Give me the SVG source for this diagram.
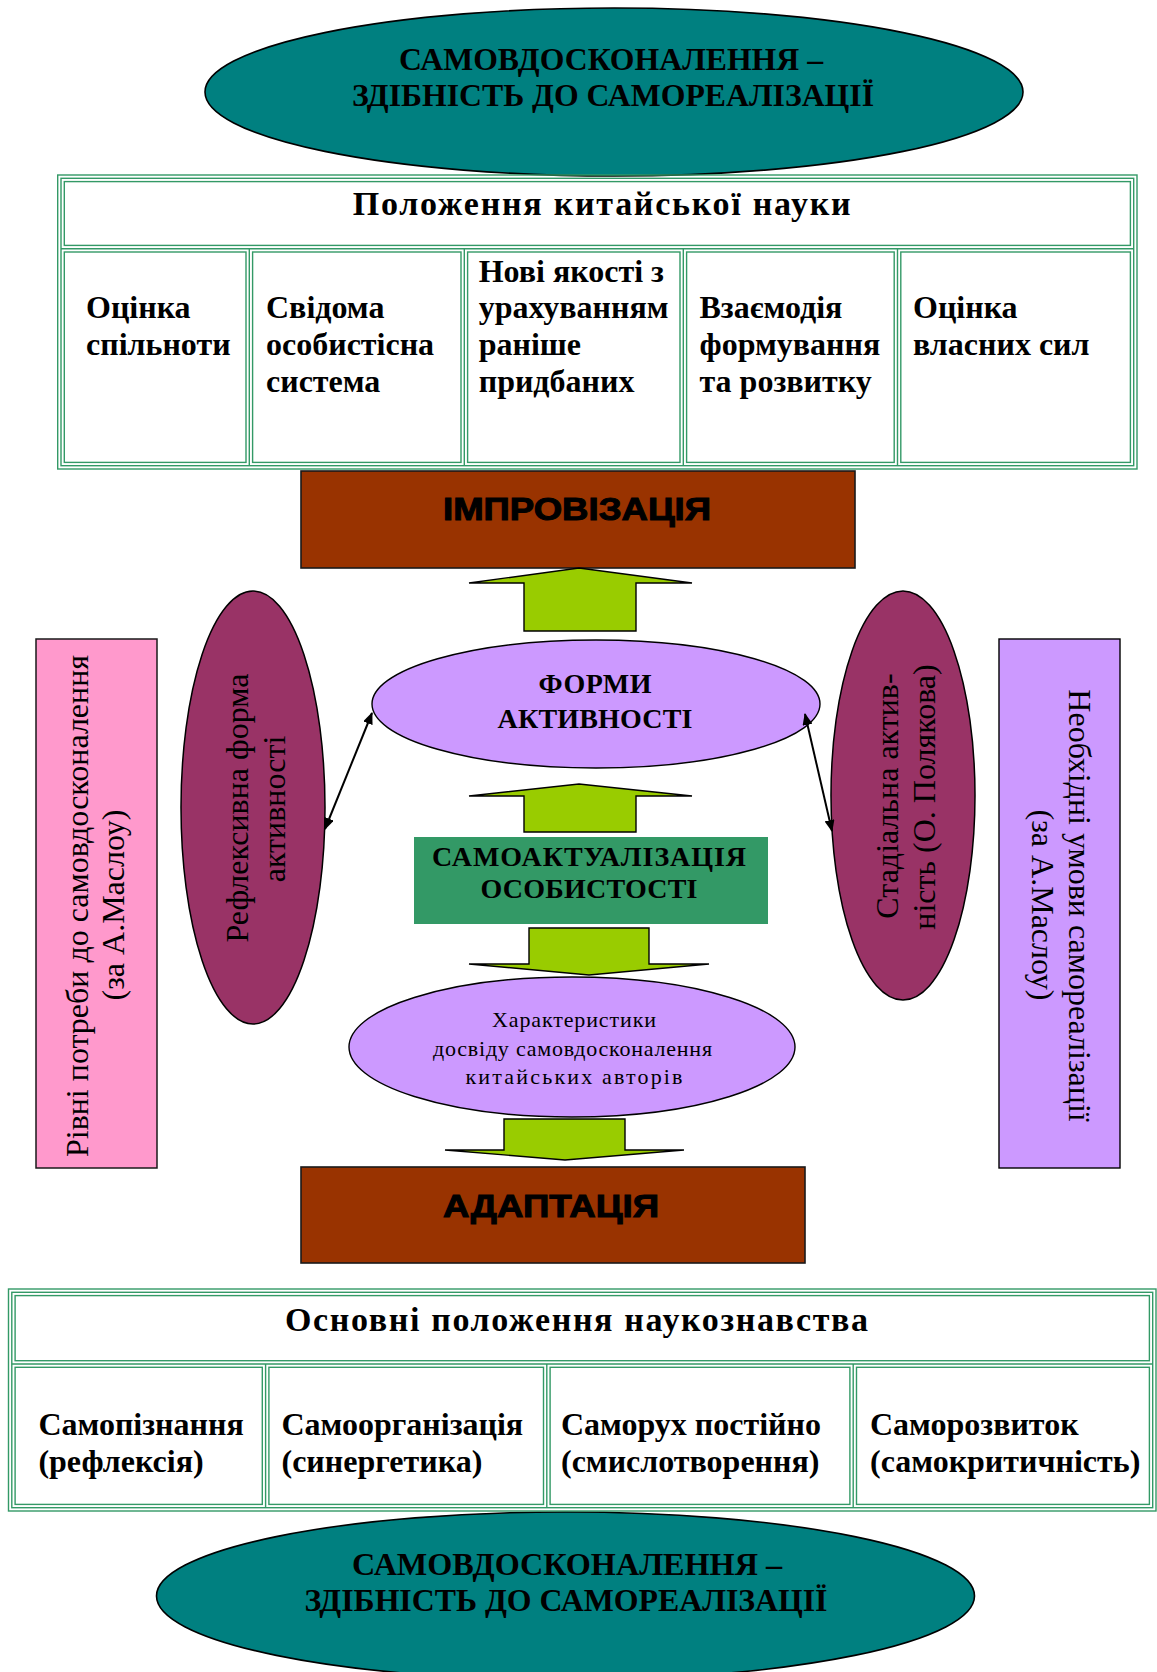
<svg xmlns="http://www.w3.org/2000/svg" width="1157" height="1672" viewBox="0 0 1157 1672">
<defs>
<style>
.bg{fill:#ffffff}
.teal{fill:#008080;stroke:#000;stroke-width:1.6}
.lilac{fill:#CC99FF;stroke:#000;stroke-width:1.4}
.maroon{fill:#993366;stroke:#000;stroke-width:1.5}
.brown{fill:#993300;stroke:#1a1a1a;stroke-width:1.6}
.pink{fill:#FF99CC;stroke:#1a1a1a;stroke-width:1.5}
.green{fill:#339966}
.arrow{fill:#99CC00;stroke:#000;stroke-width:1.4;stroke-linejoin:miter}
.tb{fill:#ffffff;stroke:#339966;stroke-width:1.4}
.tl{fill:none;stroke:#339966;stroke-width:1.4}
.conn{fill:none;stroke:#000;stroke-width:2}
.sb{font-family:"Liberation Serif","Times New Roman",serif;font-weight:bold;fill:#000}
.sr{font-family:"Liberation Serif","Times New Roman",serif;font-weight:normal;fill:#000}
.cell{font-size:32px}
.head{font-size:34px}
.ell{font-size:32px}
.blk{font-family:"Liberation Sans",Arial,sans-serif;font-weight:bold;font-size:31px;fill:#000;stroke:#000;stroke-width:1}
.rot{font-size:32px}
</style>
<marker id="ah" viewBox="0 0 12 10" refX="11" refY="5" markerWidth="12" markerHeight="10" markerUnits="userSpaceOnUse" orient="auto-start-reverse">
<path d="M0,0 L12,5 L0,10 z" fill="#000"/>
</marker>
</defs>
<rect class="bg" x="0" y="0" width="1157" height="1672"/>

<g id="top-ellipse">
<ellipse class="teal" cx="614" cy="92" rx="409" ry="84"/>
<text class="sb ell" x="611" y="70" text-anchor="middle" textLength="424" lengthAdjust="spacingAndGlyphs">САМОВДОСКОНАЛЕННЯ –</text>
<text class="sb ell" x="613" y="106" text-anchor="middle" textLength="522" lengthAdjust="spacingAndGlyphs">ЗДІБНІСТЬ  ДО САМОРЕАЛІЗАЦІЇ</text>
</g>

<g id="table-chinese-science">
<rect class="tl" x="57.7" y="175" width="1079.3" height="294"/>
<rect class="tl" x="61" y="178.3" width="1072.7" height="287.4"/>
<path class="tl" d="M61,248.7H1133.7 M249.3,248.7V465.7 M464.3,248.7V465.7 M683.3,248.7V465.7 M897.5,248.7V465.7"/>
<g id="tc-header">
<rect class="tb" x="64.3" y="181.6" width="1066.1" height="63.8"/>
<text class="sb head" x="352.7" y="215" textLength="498">Положення китайської науки</text>
</g>
<g id="tc-1">
<rect class="tb" x="64.3" y="252" width="181.7" height="210.4"/>
<text class="sb cell" x="86" y="318">Оцінка</text>
<text class="sb cell" x="86" y="355">спільноти</text>
</g>
<g id="tc-2">
<rect class="tb" x="252.6" y="252" width="208.4" height="210.4"/>
<text class="sb cell" x="266" y="318">Свідома</text>
<text class="sb cell" x="266" y="355">особистісна</text>
<text class="sb cell" x="266" y="391.5">система</text>
</g>
<g id="tc-3">
<rect class="tb" x="467.6" y="252" width="212.4" height="210.4"/>
<text class="sb cell" x="478.7" y="281.5">Нові якості з</text>
<text class="sb cell" x="478.7" y="318">урахуванням</text>
<text class="sb cell" x="478.7" y="355">раніше</text>
<text class="sb cell" x="478.7" y="391.5">придбаних</text>
</g>
<g id="tc-4">
<rect class="tb" x="686.6" y="252" width="207.6" height="210.4"/>
<text class="sb cell" x="699.5" y="318">Взаємодія</text>
<text class="sb cell" x="699.5" y="355">формування</text>
<text class="sb cell" x="699.5" y="391.5">та розвитку</text>
</g>
<g id="tc-5">
<rect class="tb" x="900.8" y="252" width="229.6" height="210.4"/>
<text class="sb cell" x="913" y="318">Оцінка</text>
<text class="sb cell" x="913" y="355">власних сил</text>
</g>
</g>

<g id="improvisation">
<rect class="brown" x="301" y="471" width="554" height="97"/>
<text class="blk" x="577" y="520" text-anchor="middle" textLength="268" lengthAdjust="spacingAndGlyphs">ІМПРОВІЗАЦІЯ</text>
</g>

<g id="arrow-up-1">
<polygon class="arrow" points="579,568 692,583 636,583 636,631 524,631 524,583 469,583"/>
</g>

<g id="forms-activity">
<ellipse class="lilac" cx="596" cy="704" rx="224" ry="64"/>
<text class="sb" font-size="28" x="595" y="693" text-anchor="middle" textLength="113">ФОРМИ</text>
<text class="sb" font-size="28" x="595" y="728" text-anchor="middle" textLength="195">АКТИВНОСТІ</text>
</g>

<g id="arrow-up-2">
<polygon class="arrow" points="579,784 692,796 636,796 636,832 524,832 524,796 469,796"/>
</g>

<g id="self-actualization">
<rect class="green" x="414" y="837" width="354" height="87"/>
<text class="sb" font-size="28" x="589" y="866" text-anchor="middle" textLength="314">САМОАКТУАЛІЗАЦІЯ</text>
<text class="sb" font-size="28" x="589" y="898" text-anchor="middle" textLength="217">ОСОБИСТОСТІ</text>
</g>

<g id="arrow-down-1">
<polygon class="arrow" points="529,928 649,928 649,964 709,964 589,975 469,964 529,964"/>
</g>

<g id="characteristics">
<ellipse class="lilac" cx="572" cy="1047" rx="223" ry="70"/>
<text class="sr" font-size="22" x="574" y="1027" text-anchor="middle" textLength="164">Характеристики</text>
<text class="sr" font-size="22" x="572.5" y="1056" text-anchor="middle" textLength="279">досвіду самовдосконалення</text>
<text class="sr" font-size="22" x="574" y="1084" text-anchor="middle" textLength="217">китайських авторів</text>
</g>

<g id="arrow-down-2">
<polygon class="arrow" points="504,1119 625,1119 625,1150 684,1150 565,1160 445,1150 504,1150"/>
</g>

<g id="adaptation">
<rect class="brown" x="301" y="1167" width="504" height="96"/>
<text class="blk" x="551" y="1217" text-anchor="middle" textLength="216" lengthAdjust="spacingAndGlyphs">АДАПТАЦІЯ</text>
</g>

<g id="needs-levels">
<rect class="pink" x="36" y="639" width="121" height="529"/>
<text class="sr rot" transform="translate(88,906) rotate(-90)" text-anchor="middle">Рівні потреби до самовдосконалення</text>
<text class="sr rot" transform="translate(124,905) rotate(-90)" text-anchor="middle">(за А.Маслоу)</text>
</g>

<g id="reflexive-form">
<ellipse class="maroon" cx="253" cy="807.5" rx="72" ry="216.5"/>
<text class="sr rot" transform="translate(248,808) rotate(-90)" text-anchor="middle">Рефлексивна форма</text>
<text class="sr rot" transform="translate(285,809) rotate(-90)" text-anchor="middle">активності</text>
</g>

<g id="stadial-activity">
<ellipse class="maroon" cx="903" cy="795.5" rx="72" ry="204.5"/>
<text class="sr rot" transform="translate(898,796) rotate(-90)" text-anchor="middle">Стадіальна актив-</text>
<text class="sr rot" transform="translate(935,797) rotate(-90)" text-anchor="middle">ність (О. Полякова)</text>
</g>

<g id="necessary-conditions">
<rect class="lilac" x="999" y="639" width="121" height="529"/>
<text class="sr rot" transform="translate(1069,905.5) rotate(90)" text-anchor="middle">Необхідні умови самореалізації</text>
<text class="sr rot" transform="translate(1032,905) rotate(90)" text-anchor="middle">(за А.Маслоу)</text>
</g>

<g id="connectors">
<line class="conn" x1="372" y1="713" x2="325" y2="829" marker-start="url(#ah)" marker-end="url(#ah)"/>
<line class="conn" x1="805" y1="714" x2="832" y2="831" marker-start="url(#ah)" marker-end="url(#ah)"/>
</g>

<g id="bottom-ellipse">
<ellipse class="teal" cx="565.5" cy="1596" rx="409" ry="84"/>
<text class="sb ell" x="567" y="1575" text-anchor="middle" textLength="430" lengthAdjust="spacingAndGlyphs">САМОВДОСКОНАЛЕННЯ –</text>
<text class="sb ell" x="566" y="1611" text-anchor="middle" textLength="523" lengthAdjust="spacingAndGlyphs">ЗДІБНІСТЬ  ДО САМОРЕАЛІЗАЦІЇ</text>
</g>

<g id="table-science-studies">
<rect class="tl" x="8.5" y="1289" width="1147.5" height="222"/>
<rect class="tl" x="11.8" y="1292.3" width="1140.9" height="215.4"/>
<path class="tl" d="M11.8,1364H1152.7 M265.6,1364V1507.7 M546.8,1364V1507.7 M853.2,1364V1507.7"/>
<g id="ts-header">
<rect class="tb" x="15.1" y="1295.6" width="1134.3" height="65.1"/>
<text class="sb head" x="285" y="1331" textLength="583">Основні положення наукознавства</text>
</g>
<g id="ts-1">
<rect class="tb" x="15.1" y="1367.3" width="247.2" height="137.1"/>
<text class="sb cell" x="38.4" y="1435">Самопізнання</text>
<text class="sb cell" x="38.4" y="1472">(рефлексія)</text>
</g>
<g id="ts-2">
<rect class="tb" x="268.9" y="1367.3" width="274.6" height="137.1"/>
<text class="sb cell" x="281.5" y="1435">Самоорганізація</text>
<text class="sb cell" x="281.5" y="1472">(синергетика)</text>
</g>
<g id="ts-3">
<rect class="tb" x="550.1" y="1367.3" width="299.8" height="137.1"/>
<text class="sb cell" x="561" y="1435">Саморух постійно</text>
<text class="sb cell" x="561" y="1472">(смислотворення)</text>
</g>
<g id="ts-4">
<rect class="tb" x="856.5" y="1367.3" width="292.9" height="137.1"/>
<text class="sb cell" x="870" y="1435">Саморозвиток</text>
<text class="sb cell" x="870" y="1472">(самокритичність)</text>
</g>
</g>
</svg>
